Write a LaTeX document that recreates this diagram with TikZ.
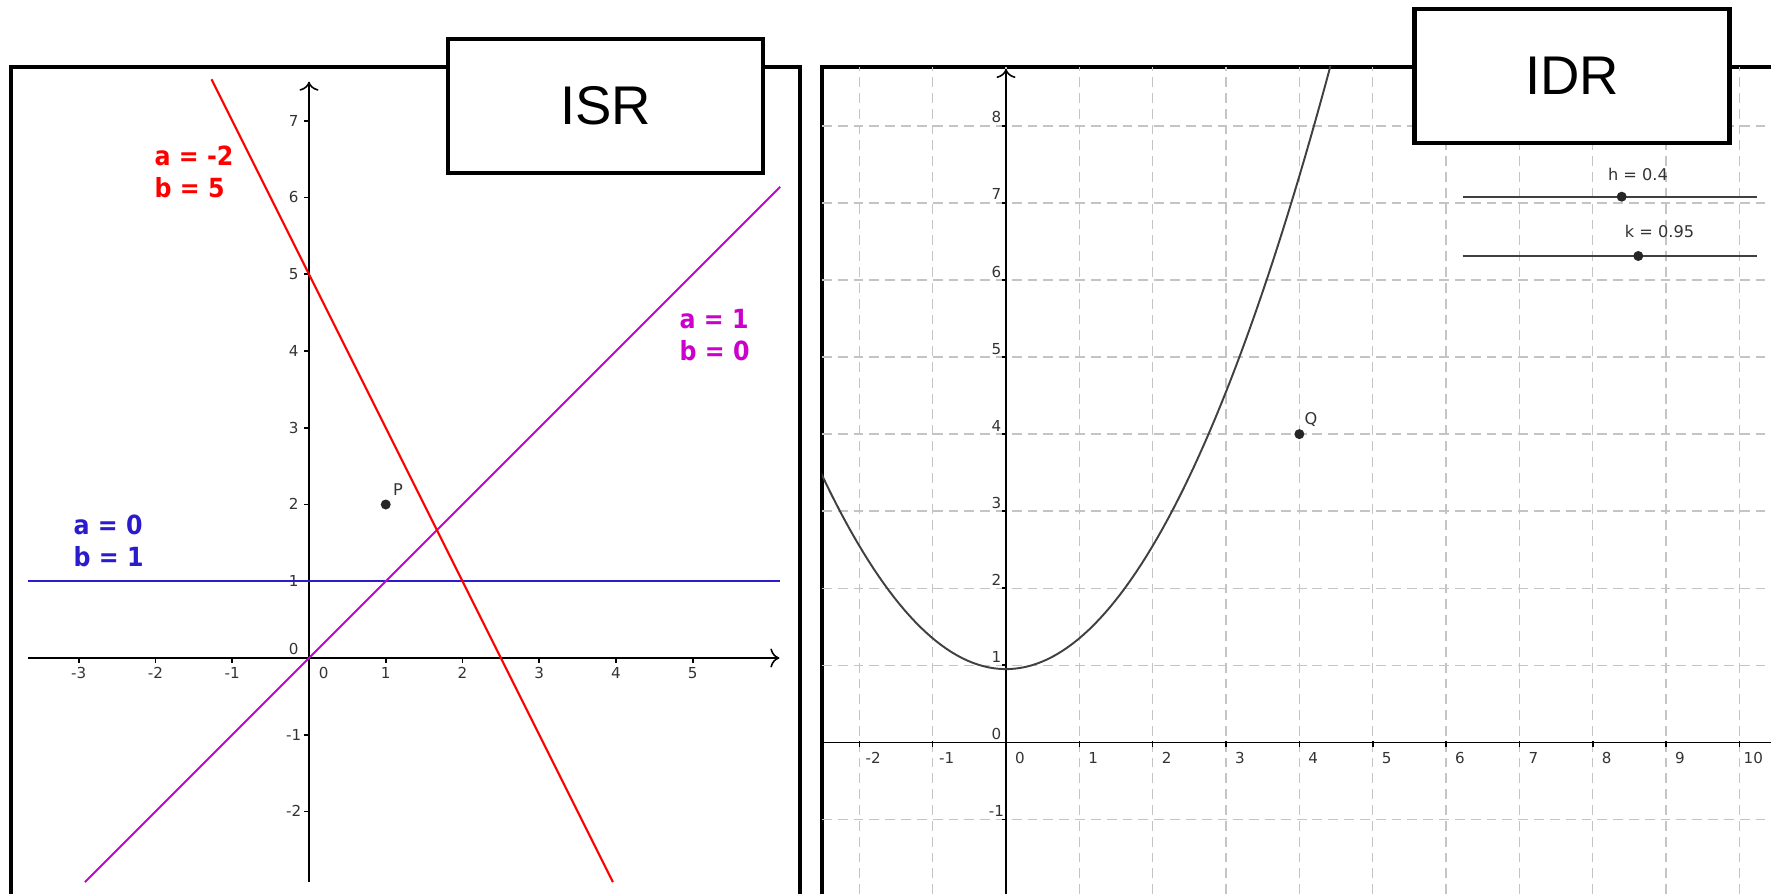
\documentclass[tikz,border=0pt]{standalone}
\usepackage{fontspec}
\setmainfont{Liberation Sans}
\newfontfamily\ggfont{DejaVu Sans}
\newfontfamily\gglabel{DejaVu Sans}[FakeStretch=0.9]
\usepackage{tikz}
\usetikzlibrary{arrows.meta}
\definecolor{ggred}{HTML}{FF0000}
\definecolor{ggmagenta}{HTML}{CC00CC}
\definecolor{ggblue}{HTML}{2A1BCC}
\definecolor{gggrid}{HTML}{C4C4C4}
\definecolor{ggtext}{HTML}{333333}
\definecolor{ggslider}{HTML}{404040}

\tikzset{
  panelframe/.style={line width=1.15pt, black},
  titlebox/.style={draw, line width=1.3pt, fill=white, minimum width=3.15cm,
    minimum height=1.34cm, font=\fontsize{15.5}{18}\selectfont},
  axisline/.style={line width=0.45pt, black},
  gridline/.style={line width=0.4pt, gggrid, dash pattern=on 2.8pt off 1.7pt},
  ticklbl/.style={font=\ggfont\fontsize{4.3}{5}\selectfont, text=ggtext, inner sep=0pt,
    text height=3.1pt, text depth=0pt},
  ptlbl/.style={font=\ggfont\fontsize{4.6}{5.5}\selectfont, text=ggtext, inner sep=0pt},
  eqlbl/.style={font=\gglabel\bfseries\fontsize{7.5}{9.1}\selectfont, align=left,
    anchor=west, inner sep=0pt},
  dot/.style={circle, fill=black!85, inner sep=0pt, minimum size=0.1cm},
}

\begin{document}
\begin{tikzpicture}[x=0.01cm, y=-0.01cm]
    \useasboundingbox (0,0) rectangle (1771,894);
    % Panel frames
    \draw[panelframe] (11,900) -- (11,67) -- (800,67) -- (800,900);
    \draw[panelframe] (822,900) -- (822,67) -- (1780,67);

    % Left plot: three lines
    \begin{scope}[shift={(309,658)}, x=0.767cm, y=0.767cm]
      \draw[axisline, ->] (-3.66,0) -- (6.13,0);
      \draw[axisline, ->] (0,-2.92) -- (0,7.51);
      \foreach \t in {-3,-2,-1,1,2,3,4,5} {
        \draw[axisline] (\t,0) -- (\t,-0.06);
        \node[ticklbl] (lx\t) at (\t,-0.2) {\t};
      }
      \foreach \t in {-2,-1,1,2,3,4,5,6,7} {
        \draw[axisline] (0,\t) -- (-0.06,\t);
        \node[ticklbl] (ly\t) at (-0.2,\t) {\t};
      }
      \node[ticklbl] (lo1) at (-0.2,0.12) {0};
      \node[ticklbl] (lo2) at (0.19,-0.2) {0};
      \draw[ggblue, line width=0.7pt] (-3.66,1) -- (6.14,1);
      \draw[ggmagenta, line width=0.6pt] (-2.92,-2.92) -- (6.14,6.14);
      \draw[ggred, line width=0.6pt] (-1.27,7.54) -- (3.96,-2.92);
      \node[dot] (P) at (1,2) {};
      \node[ptlbl] (Plbl) at (1.16,2.19) {P};
    \end{scope}

    % Right plot: parabola on grid
    \begin{scope}[shift={(1006,742.3)}, x=0.733cm, y=0.77cm]
      \begin{scope}
        \clip (-2.51,-1.97) rectangle (10.44,8.77);
        \foreach \t in {-2,...,10}
          \draw[gridline] (\t,-1.97) -- (\t,8.77);
        \foreach \t in {-1,...,8}
          \draw[gridline] (-2.51,\t) -- (10.44,\t);
        \draw[axisline, ->] (-2.51,0) -- (10.7,0);
        \draw[axisline, ->] (0,-1.97) -- (0,8.74);
        \draw[ggslider, line width=0.55pt, domain=-2.6:4.5, samples=100]
          plot (\x, {0.4*\x*\x+0.95});
      \end{scope}
      \foreach \t in {-2,-1,1,2,3,4,5,6,7,8,9,10}
        \draw[axisline] (\t,0.02) -- (\t,-0.06);
      \foreach \t in {-2,-1,0,1,2,3,4,5,6,7,8,9,10}
        \node[ticklbl] (rx\t) at (\t+0.19,-0.21) {\t};
      \foreach \t in {-1,1,2,3,4,5,6,7,8}
        \draw[axisline] (0,\t) -- (-0.055,\t);
      \foreach \t in {-1,0,1,2,3,4,5,6,7,8}
        \node[ticklbl] (ry\t) at (-0.13,\t+0.11) {\t};
      \node[dot] (Q) at (4,4) {};
      \node[ptlbl] (Qlbl) at (4.16,4.19) {Q};
    \end{scope}

    % Sliders h and k
    \draw[ggslider, line width=0.55pt] (1462.7,196.7) -- (1757,196.7);
    \draw[ggslider, line width=0.55pt] (1462.7,256) -- (1757,256);
    \node[dot] (hdot) at (1621.7,196.7) {};
    \node[dot] (kdot) at (1638.3,256) {};
    \node[ptlbl] (hlbl) at (1638,174) {h = 0.4};
    \node[ptlbl] (klbl) at (1659.5,231.7) {k = 0.95};

    % Equation labels
    \node[eqlbl, text=ggred] (redlbl) at (154,172) {a = -2\\b = 5};
    \node[eqlbl, text=ggmagenta] (maglbl) at (679,335) {a = 1\\b = 0};
    \node[eqlbl, text=ggblue] (bluelbl) at (73,541) {a = 0\\b = 1};

    % Title boxes
    \node[titlebox] (isr) at (605.5,106) {ISR};
    \node[titlebox] (idr) at (1572,76) {IDR};
  \end{tikzpicture}
\end{document}
